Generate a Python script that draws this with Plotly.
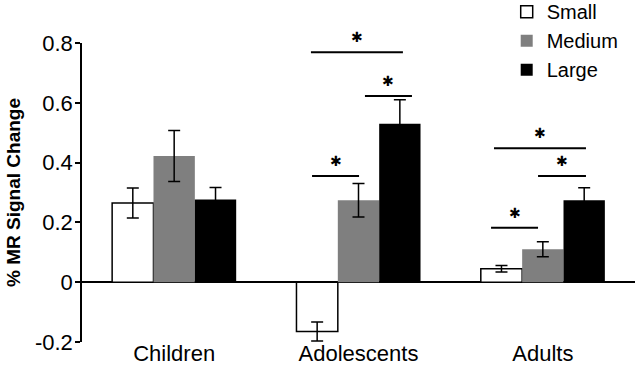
import plotly.graph_objects as go

# ---- data ----
categories = ["Children", "Adolescents", "Adults"]
series_names = ["Small", "Medium", "Large"]
small_vals = [0.265, -0.165, 0.045]
small_err = [0.05, 0.032, 0.011]
medium_vals = [0.422, 0.274, 0.11]
medium_err = [0.085, 0.056, 0.025]
large_vals = [0.277, 0.53, 0.274]
large_err = [0.04, 0.08, 0.042]
y_tick_vals = [-0.2, 0, 0.2, 0.4, 0.6, 0.8]
y_tick_text = ["-0.2", "0", "0.2", "0.4", "0.6", "0.8"]
# significance brackets: (x0, x1, y) in axis units
sig_lines = [
    (0.742, 1.241, 0.769),
    (1.035, 1.290, 0.623),
    (0.748, 1.003, 0.355),
    (1.735, 2.234, 0.448),
    (1.974, 2.234, 0.355),
    (1.719, 1.974, 0.182),
]

FONT = "Arial, Liberation Sans, sans-serif"

fig = go.Figure()
styles = [
    dict(color="white", line=dict(color="black", width=1.5)),
    dict(color="#7f7f7f", line=dict(color="#7f7f7f", width=0)),
    dict(color="black", line=dict(color="black", width=0)),
]
for name, vals, errs, st in zip(series_names, [small_vals, medium_vals, large_vals],
                                 [small_err, medium_err, large_err], styles):
    fig.add_trace(go.Bar(
        x=categories, y=vals, name=name, marker=st, legendgroup=name,
        error_y=dict(type="data", array=errs, visible=True, color="black",
                     thickness=1.5, width=6),
    ))

shapes = []
annotations = []
for x0, x1, y in sig_lines:
    shapes.append(dict(type="line", xref="x", yref="y", x0=x0, x1=x1, y0=y, y1=y,
                       line=dict(color="black", width=2)))
    annotations.append(dict(x=(x0 + x1) / 2, y=y, xref="x", yref="y", text="✱",
                            showarrow=False, yanchor="middle", yshift=15,
                            font=dict(family="DejaVu Sans", size=14, color="black")))

fig.update_layout(
    width=640, height=367,
    margin=dict(l=82, r=5, t=43, b=25, autoexpand=False),
    paper_bgcolor="white", plot_bgcolor="white",
    font=dict(family=FONT, color="black"),
    barmode="group", bargap=0.327, bargroupgap=0,
    showlegend=True,
    legend=dict(x=0.768, y=1.170, xanchor="left", yanchor="top",
                font=dict(size=20, family=FONT), tracegroupgap=0,
                bgcolor="rgba(0,0,0,0)"),
    xaxis=dict(type="category", range=[-0.5, 2.5], showline=False, ticks="",
               showgrid=False, zeroline=False, tickfont=dict(size=22),
               ticklabelstandoff=-4),
    xaxis2=dict(overlaying="x", anchor="free", position=0.2, type="linear",
                range=[-0.5, 2.5], showline=True, linecolor="black", linewidth=1.5,
                ticks="outside", tickvals=[0.5, 1.5, 2.5], ticklen=5, tickwidth=1.5,
                tickcolor="black", showticklabels=False, showgrid=False, zeroline=False),
    yaxis=dict(range=[-0.2, 0.8], showline=True, linecolor="black", linewidth=1.5,
               ticks="outside", ticklen=5, tickwidth=1.5, tickcolor="black",
               tickvals=y_tick_vals, ticktext=y_tick_text, tickfont=dict(size=22),
               ticklabelstandoff=-2,
               showgrid=False, zeroline=True, zerolinecolor="black", zerolinewidth=1.5,
               title=dict(text="<b>% MR Signal Change</b>", font=dict(size=19), standoff=9)),
    shapes=shapes, annotations=annotations,
)

fig.write_html("out.html", config={"displayModeBar": False},
               post_script="document.body.style.margin='0';document.body.style.overflow='hidden';")
